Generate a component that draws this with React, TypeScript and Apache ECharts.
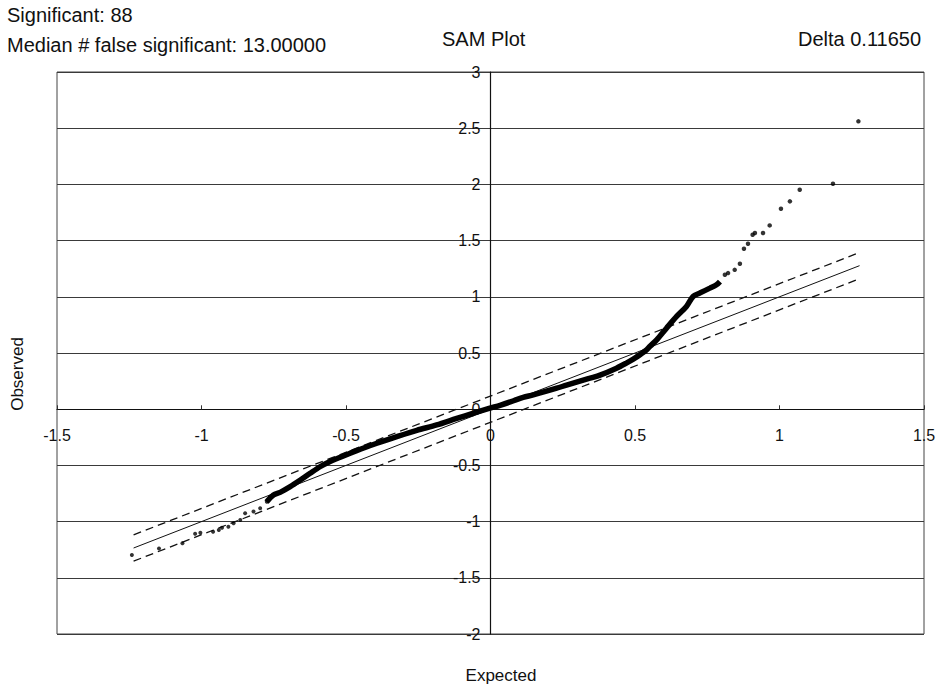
import React, { useEffect, useRef } from "react";
import * as echarts from "echarts";

// Reference lines: solid y=x, dashed ±Delta
const solidLine: number[][] = [[-1.235, -1.235], [1.277, 1.277]];
const upperLine: number[][] = [[-1.235, -1.118], [1.277, 1.394]];
const lowerLine: number[][] = [[-1.235, -1.352], [1.277, 1.161]];

// Sparse lower tail points
const lowTail: number[][] = [
  [-1.241, -1.297], [-1.147, -1.240], [-1.066, -1.192], [-1.022, -1.108], [-1.004, -1.100],
  [-0.960, -1.090], [-0.940, -1.075], [-0.929, -1.055], [-0.907, -1.045], [-0.889, -1.015],
  [-0.866, -0.986], [-0.849, -0.926], [-0.820, -0.910], [-0.797, -0.882], [-0.774, -0.823],
];

// Dense core of observed vs expected points
const core: number[][] = [
  [-0.775, -0.825], [-0.751, -0.763], [-0.728, -0.740], [-0.693, -0.689], [-0.659, -0.632],
  [-0.624, -0.570], [-0.590, -0.512], [-0.555, -0.465], [-0.520, -0.428], [-0.463, -0.368],
  [-0.393, -0.303], [-0.324, -0.244], [-0.255, -0.188], [-0.186, -0.140], [-0.117, -0.082],
  [-0.059, -0.036], [-0.002, 0.009], [0.033, 0.035], [0.080, 0.075], [0.113, 0.105],
  [0.148, 0.127], [0.229, 0.187], [0.263, 0.214], [0.344, 0.276], [0.379, 0.303],
  [0.436, 0.365], [0.470, 0.410], [0.494, 0.445], [0.520, 0.490], [0.540, 0.528],
  [0.552, 0.560], [0.575, 0.617], [0.609, 0.721], [0.644, 0.825], [0.678, 0.914],
  [0.701, 1.003], [0.724, 1.033], [0.759, 1.077], [0.782, 1.107], [0.794, 1.136],
];

// Sparse upper tail points
const highTail: number[][] = [
  [0.811, 1.196], [0.822, 1.211], [0.845, 1.240], [0.863, 1.294], [0.877, 1.427],
  [0.891, 1.472], [0.907, 1.552], [0.915, 1.567], [0.943, 1.567], [0.966, 1.635],
  [1.005, 1.784], [1.036, 1.849], [1.070, 1.953], [1.185, 2.006], [1.273, 2.561],
];

const headerLeft1 = "Significant: 88";
const headerLeft2 = "Median # false significant: 13.00000";
const headerTitle = "SAM Plot";
const headerRight = "Delta 0.11650";

const FONT = "'Liberation Sans', Arial, Helvetica, sans-serif";

export default function App() {
  const ref = useRef<HTMLDivElement>(null);
  useEffect(() => {
    if (!ref.current) return;
    const chart = echarts.init(ref.current, null, { renderer: "svg" });
    chart.setOption({
      animation: false,
      backgroundColor: "#ffffff",
      textStyle: { fontFamily: FONT },
      grid: {
        left: 57, top: 72, width: 867, height: 562,
        show: true, borderColor: "#444", borderWidth: 1,
        containLabel: false, outerBoundsMode: "none",
      },
      xAxis: {
        type: "value", min: -1.5, max: 1.5, interval: 0.5,
        position: "bottom", offset: -224.7,
        axisLine: { onZero: false, lineStyle: { color: "#111", width: 1.2 } },
        axisTick: { show: true, inside: true, length: 4, lineStyle: { color: "#333" } },
        axisLabel: { color: "#111", fontSize: 16, margin: 18, fontFamily: FONT },
        splitLine: { show: false },
      },
      yAxis: {
        type: "value", min: -2, max: 3, interval: 0.5,
        position: "left", offset: -433.5,
        axisLine: { onZero: false, lineStyle: { color: "#111", width: 1.2 } },
        axisTick: { show: false },
        axisLabel: {
          color: "#111", fontSize: 16, margin: 10, fontFamily: FONT,
          verticalAlign: "middle", padding: [8, 0, 0, 0],
        },
        splitLine: { show: true, lineStyle: { color: "#3a3a3a", width: 1 } },
      },
      graphic: [
        { type: "text", left: 7, top: 5, style: { text: headerLeft1, font: `20px ${FONT}`, fill: "#111" } },
        { type: "text", left: 7, top: 35, style: { text: headerLeft2, font: `20px ${FONT}`, fill: "#111" } },
        { type: "text", left: 442, top: 29, style: { text: headerTitle, font: `20px ${FONT}`, fill: "#111" } },
        { type: "text", left: 798, top: 29, style: { text: headerRight, font: `20px ${FONT}`, fill: "#111" } },
        { type: "text", x: 501, y: 675, style: { text: "Expected", font: `17px ${FONT}`, fill: "#111", align: "center", verticalAlign: "middle" } },
        { type: "text", x: 17, y: 374, rotation: Math.PI / 2, style: { text: "Observed", font: `17px ${FONT}`, fill: "#111", align: "center", verticalAlign: "middle" } },
      ],
      series: [
        { type: "line", data: solidLine, symbol: "none", lineStyle: { color: "#111", width: 1 }, z: 2 },
        { type: "line", data: upperLine, symbol: "none", lineStyle: { color: "#111", width: 1.3, type: [8, 5] }, z: 2 },
        { type: "line", data: lowerLine, symbol: "none", lineStyle: { color: "#111", width: 1.3, type: [8, 5] }, z: 2 },
        { type: "line", data: core, symbol: "none", smooth: 0.3, lineStyle: { color: "#000", width: 5.5 }, z: 3 },
        { type: "scatter", data: lowTail, symbolSize: 4, itemStyle: { color: "#000" }, z: 4 },
        { type: "scatter", data: highTail, symbolSize: 4.5, itemStyle: { color: "#000" }, z: 4 },
      ],
    });
    return () => chart.dispose();
  }, []);
  return <div ref={ref} style={{ position: "absolute", left: 0, top: 0, width: 937, height: 685 }} />;
}
